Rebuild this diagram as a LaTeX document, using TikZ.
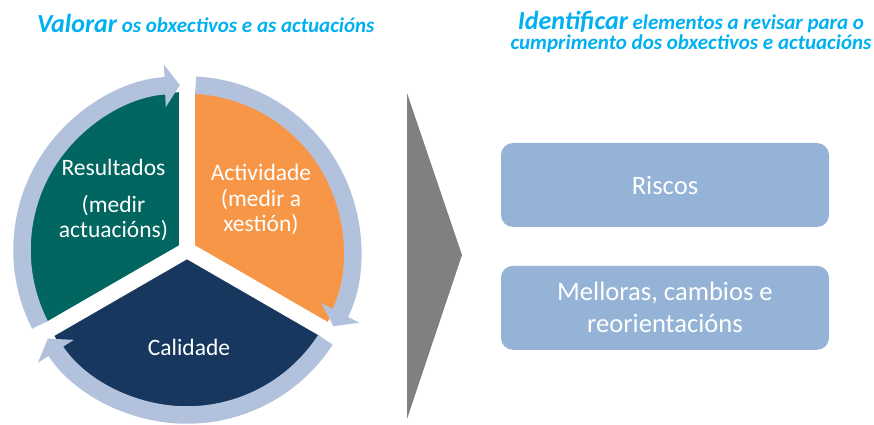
\documentclass[tikz,border=0pt]{standalone}
\usepackage{fontspec}
\setmainfont{Carlito}
\usetikzlibrary{arrows.meta,positioning}

\definecolor{titleblue}{HTML}{00B0F0}
\definecolor{resteal}{HTML}{00665F}
\definecolor{actorange}{HTML}{F79646}
\definecolor{calnavy}{HTML}{17375E}
\definecolor{ringblue}{HTML}{B2C2DD}
\definecolor{boxblue}{HTML}{95B3D7}
\definecolor{chevgray}{HTML}{808080}

\tikzset{
	ringarrow/.style={ringblue, line width=8.75pt, -{Triangle[width=21pt,length=7.5pt]}},
	revbox/.style={fill=boxblue, rounded corners=6pt, minimum width=164pt, minimum height=42pt,
		align=center, text=white, font=\fontsize{13.3}{16}\selectfont},
	cyclelabel/.style={text=white, align=center, anchor=base, font=\fontsize{11.75}{12.75}\selectfont},
	titletext/.style={text=titleblue, font=\bfseries\itshape\fontsize{10.5}{10}\selectfont}
}

\begin{document}
\begin{tikzpicture}[x=0.5pt, y=0.5pt]
	\useasboundingbox (0,0) rectangle (874,424);
	
		% Centre of the cycle
		\coordinate (O) at (187,174);
		
		% Sectors
		\fill [resteal] (O) -- ++(90:158) arc [start angle=90, end angle=210, radius=158] -- cycle;
		\fill [actorange] (O) -- ++(-30:158) arc [start angle=-30, end angle=90, radius=158] -- cycle;
		\fill [calnavy] (O) -- ++(210:158) arc [start angle=210, end angle=330, radius=158] -- cycle;
		
		% White gaps between the sectors
		\foreach \a in {90,210,330}
		\draw [white, line width=8pt] (O) -- ++(\a:185);
		
		% Ring of arrows (clockwise)
		\foreach \a in {210,90,-30}
		\draw [ringarrow] (O) ++(\a-3:165) arc [start angle=\a-3, end angle=\a-117.5, radius=165];
		
		% Labels in the cycle (base = last line)
		\node [cyclelabel] (resultados) at (113.5,186) {Resultados\\[5.75pt](medir\\actuacións)};
		\node [cyclelabel] (actividade) at (261,192) {Actividade\\(medir a\\xestión)};
		\node [cyclelabel] (calidade) at (189,69) {Calidade};
		
		% Grey chevron
		\fill [chevgray] (407,331) -- (462,169) -- (407,5) -- cycle;
		
		% Boxes
		\node [revbox] (riscos) at (665,239) {Riscos};
		\node [revbox, below=19pt of riscos] (melloras) {Melloras, cambios e\\reorientacións};
		
		% Titles
		\node [titletext, anchor=base west] (valorar) at (30,391)
			{{\fontsize{13}{13}\selectfont Valorar} os obxectivos e as actuacións};
		\node [titletext, align=center, anchor=base] (identificar) at (691,374)
			{{\fontsize{13}{13}\selectfont Identificar} elementos a revisar para o\\cumprimento dos obxectivos e actuacións};
	\end{tikzpicture}
\end{document}
